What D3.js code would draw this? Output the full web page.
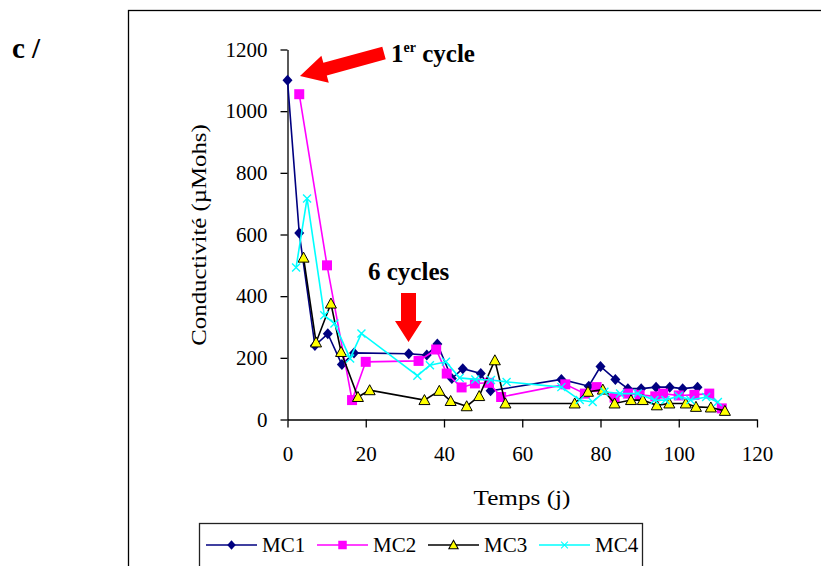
<!DOCTYPE html>
<html>
<head>
<meta charset="utf-8">
<script src="https://cdn.jsdelivr.net/npm/d3@7"></script>
<style>
  body { margin: 0; background: #fff; }
  svg { display: block; }
  text { font-family: "Liberation Serif", "DejaVu Serif", serif; }
</style>
</head>
<body>
<div id="chart"></div>
<script>
// ------------------------------
// Data
// ------------------------------
const mc1Days = [0, 3, 7, 10.3, 13.9, 17, 31, 35.6, 38.3, 42, 44.8, 49.4, 51.9, 70, 77, 80, 83.8, 87, 90.4, 94.2, 97.7, 101, 104.8];
const mc1Values = [1100, 605, 240, 278, 178, 216, 213, 209, 245, 133, 165, 149, 93, 130, 108, 172, 130, 100, 100, 105, 105, 100, 105];

const mc2Days = [3, 10.1, 16.5, 20, 33.5, 38, 40.7, 44.5, 47.9, 51.5, 54.6, 71, 76, 79, 83.6, 87, 90, 94, 96, 100, 104, 107.8, 111];
const mc2Values = [1055, 500, 63, 187, 190, 227, 149, 104, 117, 119, 73, 114, 84, 105, 71, 84, 80, 75, 84, 78, 80, 84, 36];

const mc3Days = [4.1, 7.3, 11.1, 13.7, 18, 21, 35, 38.8, 41.7, 45.8, 49, 53, 55.7, 73.4, 76.8, 80.6, 83.6, 87.8, 90.8, 94.4, 97.6, 101.8, 104.4, 108.2, 111.8];
const mc3Values = [525, 250, 376, 219, 73, 95, 63, 93, 60, 43, 76, 192, 52, 52, 90, 97, 52, 63, 63, 46, 52, 52, 41, 39, 28];

const mc4Days = [2.2, 5, 9.4, 12, 16, 18.9, 33.2, 36.4, 40.5, 44, 48, 52, 56, 70, 74.7, 78, 81, 85, 89.5, 93.8, 96.6, 100, 103, 107, 110];
const mc4Values = [493, 717, 338, 311, 198, 279, 142, 176, 187, 135, 130, 128, 122, 105, 63, 57, 90, 84, 84, 63, 63, 76, 63, 73, 57];

const seriesNames = ["MC1", "MC2", "MC3", "MC4"];
const xTicks = [0, 20, 40, 60, 80, 100, 120];
const yTicks = [0, 200, 400, 600, 800, 1000, 1200];

// ------------------------------
// Setup
// ------------------------------
const width = 821;
const height = 566;
const serif = '"Liberation Serif", "DejaVu Serif", serif';

const svg = d3.select("#chart").append("svg").attr("width", width).attr("height", height);

// outer frame (runs off the right and bottom edge)
svg.append("rect")
  .attr("x", 128.5).attr("y", 10.5)
  .attr("width", 720).attr("height", 600)
  .attr("fill", "none").attr("stroke", "#000").attr("stroke-width", 1.3);

const x = d3.scaleLinear().domain([0, 120]).range([287.5, 757]);
const y = d3.scaleLinear().domain([0, 1200]).range([419.5, 49.5]);

// ------------------------------
// Axes
// ------------------------------
const xAxis = svg.append("g")
  .attr("transform", `translate(0,${y(0)})`)
  .call(d3.axisBottom(x).tickValues(xTicks).tickFormat(d3.format("d"))
    .tickSize(8).tickSizeOuter(0).tickPadding(19));

const yAxis = svg.append("g")
  .attr("transform", `translate(${x(0)},0)`)
  .call(d3.axisLeft(y).tickValues(yTicks).tickFormat(d3.format("d"))
    .tickSize(7).tickSizeOuter(0).tickPadding(13));

[xAxis, yAxis].forEach((g) => {
  g.selectAll("path, line").attr("stroke", "#000").attr("stroke-width", 1.3);
  g.selectAll("text")
    .attr("fill", "#000")
    .style("font-size", "21px")
    .style("font-family", serif);
});

// axis titles (source font is a bit wider than Times, so stretch horizontally)
svg.append("text")
  .attr("transform", "translate(522,505) scale(1.2,1)")
  .attr("text-anchor", "middle")
  .style("font-size", "21px")
  .text("Temps (j)");

svg.append("text")
  .attr("transform", "translate(206,235) rotate(-90) scale(1.18,1)")
  .attr("text-anchor", "middle")
  .style("font-size", "21px")
  .text("Conductivité (µMohs)");

// ------------------------------
// Series
// ------------------------------
const diamond = "M0,-5.5L5,0L0,5.5L-5,0Z";
const square = "M-5,-5H5V5H-5Z";
const triangle = "M0,-5.5L5.5,4.5H-5.5Z";
const cross = "M-4,-4L4,4M-4,4L4,-4";

const series = [
  { name: "MC1", days: mc1Days, values: mc1Values, color: "#000080", marker: diamond, fill: "#000080", stroke: "none" },
  { name: "MC2", days: mc2Days, values: mc2Values, color: "#ff00ff", marker: square, fill: "#ff00ff", stroke: "none" },
  { name: "MC3", days: mc3Days, values: mc3Values, color: "#000000", marker: triangle, fill: "#ffff00", stroke: "#000" },
  { name: "MC4", days: mc4Days, values: mc4Values, color: "#00ffff", marker: cross, fill: "none", stroke: "#00ffff" },
];

const line = d3.line().x((d) => x(d[0])).y((d) => y(d[1]));

series.forEach((s) => {
  const pts = s.days.map((d, i) => [d, s.values[i]]);
  const g = svg.append("g");

  g.append("path")
    .attr("d", line(pts))
    .attr("fill", "none")
    .attr("stroke", s.color)
    .attr("stroke-width", 1.6);

  g.selectAll("path.mark")
    .data(pts)
    .join("path")
    .attr("class", "mark")
    .attr("transform", (d) => `translate(${x(d[0])},${y(d[1])})`)
    .attr("d", s.marker)
    .attr("fill", s.fill)
    .attr("stroke", s.stroke)
    .attr("stroke-width", s.name === "MC4" ? 1.4 : 1);
});

// ------------------------------
// Legend
// ------------------------------
svg.append("rect")
  .attr("x", 199.5).attr("y", 523.5)
  .attr("width", 443).attr("height", 60)
  .attr("fill", "#fff").attr("stroke", "#222").attr("stroke-width", 1.3);

const legendX = [206, 317, 428, 539];
series.forEach((s, i) => {
  const lx = legendX[i];
  const ly = 545;
  svg.append("line")
    .attr("x1", lx).attr("x2", lx + 51)
    .attr("y1", ly).attr("y2", ly)
    .attr("stroke", s.color).attr("stroke-width", 1.5);
  svg.append("path")
    .attr("transform", `translate(${lx + 25.5},${ly}) scale(0.85)`)
    .attr("d", s.marker)
    .attr("fill", s.fill)
    .attr("stroke", s.stroke)
    .attr("stroke-width", 1.2);
  svg.append("text")
    .attr("x", lx + 56).attr("y", ly + 7)
    .style("font-size", "21px")
    .text(seriesNames[i]);
});

// ------------------------------
// Annotations
// ------------------------------
function arrowPoints(tail, tip, w, hw, hl) {
  const dx = tip[0] - tail[0];
  const dy = tip[1] - tail[1];
  const len = Math.hypot(dx, dy);
  const ux = dx / len, uy = dy / len;
  const px = -uy, py = ux;
  const bx = tip[0] - ux * hl, by = tip[1] - uy * hl;
  return [
    [tail[0] + px * w, tail[1] + py * w],
    [bx + px * w, by + py * w],
    [bx + px * hw, by + py * hw],
    tip,
    [bx - px * hw, by - py * hw],
    [bx - px * w, by - py * w],
    [tail[0] - px * w, tail[1] - py * w],
  ];
}

svg.append("polygon")
  .attr("points", arrowPoints([384, 53], [300, 76], 6.5, 14, 26).join(" "))
  .attr("fill", "#ff0000");

svg.append("polygon")
  .attr("points", arrowPoints([408.5, 293], [408.5, 342], 7.5, 13.5, 21).join(" "))
  .attr("fill", "#ff0000");

const t1 = svg.append("text")
  .attr("x", 391).attr("y", 62)
  .style("font-size", "25px").style("font-weight", "bold");
t1.append("tspan").text("1");
t1.append("tspan").attr("dy", -10).style("font-size", "14px").text("er");
t1.append("tspan").attr("dy", 10).text(" cycle");

svg.append("text")
  .attr("x", 368).attr("y", 280)
  .style("font-size", "25px").style("font-weight", "bold")
  .text("6 cycles");

svg.append("text")
  .attr("x", 12).attr("y", 58)
  .style("font-size", "29px").style("font-weight", "bold")
  .text("c /");
</script>
</body>
</html>
